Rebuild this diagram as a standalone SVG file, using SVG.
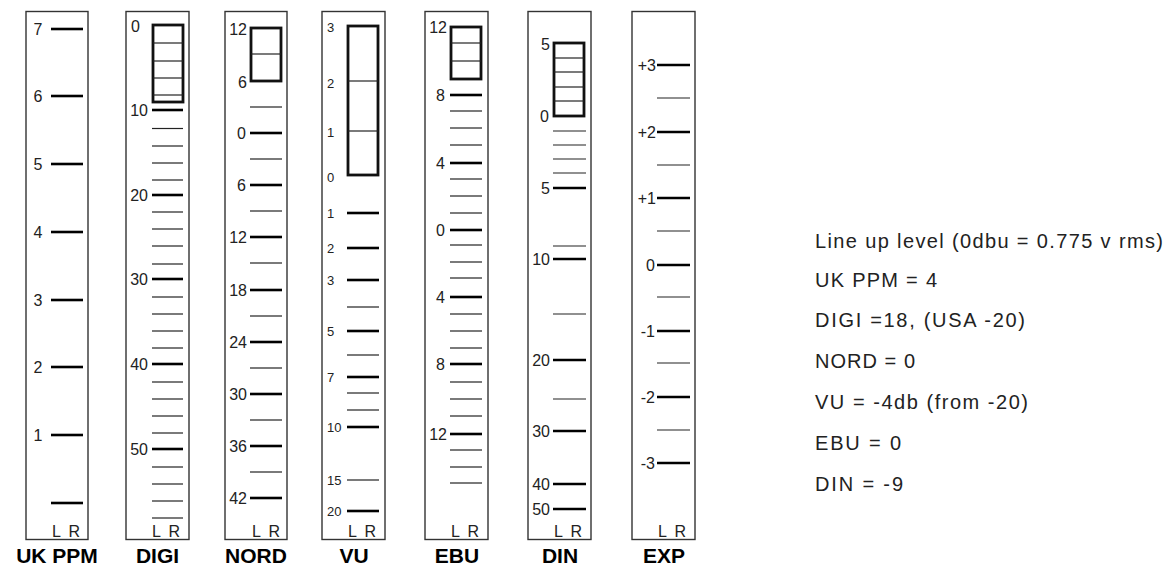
<svg xmlns="http://www.w3.org/2000/svg" width="1171" height="566" viewBox="0 0 1171 566">
<style>
.frame{fill:#fff;stroke:#333;stroke-width:1.4}
.bar{fill:#fff;stroke:#111;stroke-width:2.8}
.cell{stroke:#222;stroke-width:1.2}
.tk{stroke:#000;stroke-width:2.6}
.tn{stroke:#222;stroke-width:1.2}
.lb{font-family:"Liberation Sans",Arial,sans-serif;font-size:16px;fill:#222}
.ls{font-family:"Liberation Sans",Arial,sans-serif;font-size:13px;fill:#222}
.e{text-anchor:end}
.m{text-anchor:middle}
.lr{font-family:"Liberation Sans",Arial,sans-serif;font-size:16px;fill:#222}
.tt{font-family:"Liberation Sans",Arial,sans-serif;font-size:21px;font-weight:bold;fill:#000;text-anchor:middle}
.nt{font-family:"Liberation Sans",Arial,sans-serif;font-size:20px;fill:#222}
</style>
<rect width="1171" height="566" fill="#fff"/>

<g id="ukppm">
<rect class="frame" x="26" y="11.5" width="62" height="528"/>
<g class="tk">
<line x1="51" y1="29" x2="83" y2="29"/><line x1="51" y1="96" x2="83" y2="96"/><line x1="51" y1="164" x2="83" y2="164"/><line x1="51" y1="232" x2="83" y2="232"/><line x1="51" y1="300" x2="83" y2="300"/><line x1="51" y1="367" x2="83" y2="367"/><line x1="51" y1="435" x2="83" y2="435"/><line x1="51" y1="503" x2="83" y2="503"/>
</g>
<g class="lb m">
<text x="38" y="35">7</text><text x="38" y="102">6</text><text x="38" y="170">5</text><text x="38" y="238">4</text><text x="38" y="306">3</text><text x="38" y="373">2</text><text x="38" y="441">1</text>
</g>
<text class="lr" x="52" y="537" textLength="28">L R</text>
<text class="tt" x="57" y="563">UK PPM</text>
</g>

<g id="digi">
<rect class="frame" x="126" y="11.5" width="63" height="528"/>
<rect class="bar" x="153" y="25" width="30" height="77"/>
<g class="cell"><line x1="153" y1="43" x2="183" y2="43"/><line x1="153" y1="61" x2="183" y2="61"/><line x1="153" y1="78" x2="183" y2="78"/><line x1="153" y1="95" x2="183" y2="95"/></g>
<g class="tk">
<line x1="152" y1="110" x2="183" y2="110"/><line x1="152" y1="195" x2="183" y2="195"/><line x1="152" y1="279" x2="183" y2="279"/><line x1="152" y1="364" x2="183" y2="364"/><line x1="152" y1="449" x2="183" y2="449"/>
</g>
<g class="tn">
<line x1="152" y1="128.5" x2="183" y2="128.5"/><line x1="152" y1="146" x2="183" y2="146"/><line x1="152" y1="163" x2="183" y2="163"/><line x1="152" y1="180" x2="183" y2="180"/>
<line x1="152" y1="212" x2="183" y2="212"/><line x1="152" y1="229" x2="183" y2="229"/><line x1="152" y1="246" x2="183" y2="246"/><line x1="152" y1="264" x2="183" y2="264"/>
<line x1="152" y1="297" x2="183" y2="297"/><line x1="152" y1="314" x2="183" y2="314"/><line x1="152" y1="331" x2="183" y2="331"/><line x1="152" y1="348" x2="183" y2="348"/>
<line x1="152" y1="382" x2="183" y2="382"/><line x1="152" y1="399" x2="183" y2="399"/><line x1="152" y1="416" x2="183" y2="416"/><line x1="152" y1="433" x2="183" y2="433"/>
<line x1="152" y1="467" x2="183" y2="467"/><line x1="152" y1="484" x2="183" y2="484"/><line x1="152" y1="501" x2="183" y2="501"/><line x1="152" y1="518" x2="183" y2="518"/>
</g>
<text class="lb" x="131" y="32">0</text>
<g class="lb e">
<text x="148" y="116">10</text><text x="148" y="201">20</text><text x="148" y="285">30</text><text x="148" y="370">40</text><text x="148" y="455">50</text>
</g>
<text class="lr" x="152" y="537" textLength="28">L R</text>
<text class="tt" x="157.5" y="563">DIGI</text>
</g>

<g id="nord">
<rect class="frame" x="225" y="11.5" width="62" height="528"/>
<rect class="bar" x="251" y="28" width="30" height="53"/>
<line class="cell" x1="251" y1="54" x2="281" y2="54"/>
<g class="tk">
<line x1="250" y1="133" x2="282" y2="133"/><line x1="250" y1="185" x2="282" y2="185"/><line x1="250" y1="237" x2="282" y2="237"/><line x1="250" y1="290" x2="282" y2="290"/><line x1="250" y1="342" x2="282" y2="342"/><line x1="250" y1="394" x2="282" y2="394"/><line x1="250" y1="446" x2="282" y2="446"/><line x1="250" y1="498" x2="282" y2="498"/>
</g>
<g class="tn">
<line x1="250" y1="107" x2="282" y2="107"/><line x1="250" y1="159" x2="282" y2="159"/><line x1="250" y1="211" x2="282" y2="211"/><line x1="250" y1="263" x2="282" y2="263"/><line x1="250" y1="316" x2="282" y2="316"/><line x1="250" y1="368" x2="282" y2="368"/><line x1="250" y1="420" x2="282" y2="420"/><line x1="250" y1="472" x2="282" y2="472"/>
</g>
<g class="lb e">
<text x="247" y="35">12</text><text x="247" y="88">6</text>
<text x="246" y="139">0</text><text x="246" y="191">6</text><text x="247" y="243">12</text><text x="247" y="296">18</text><text x="247" y="348">24</text><text x="247" y="400">30</text><text x="247" y="452">36</text><text x="247" y="504">42</text>
</g>
<text class="lr" x="252" y="537" textLength="28">L R</text>
<text class="tt" x="256" y="563">NORD</text>
</g>

<g id="vu">
<rect class="frame" x="322" y="11.5" width="63" height="528"/>
<rect class="bar" x="348" y="26" width="30" height="149"/>
<g class="cell"><line x1="348" y1="81" x2="378" y2="81"/><line x1="348" y1="131" x2="378" y2="131"/></g>
<g class="tk">
<line x1="347" y1="213" x2="379" y2="213"/><line x1="347" y1="248" x2="379" y2="248"/><line x1="347" y1="280" x2="379" y2="280"/><line x1="347" y1="331" x2="379" y2="331"/><line x1="347" y1="377" x2="379" y2="377"/><line x1="347" y1="427" x2="379" y2="427"/><line x1="347" y1="511" x2="379" y2="511"/>
</g>
<g class="tn">
<line x1="347" y1="307" x2="379" y2="307"/><line x1="347" y1="355" x2="379" y2="355"/><line x1="347" y1="393" x2="379" y2="393"/><line x1="347" y1="410" x2="379" y2="410"/><line x1="347" y1="480" x2="379" y2="480"/>
</g>
<g class="ls">
<text x="327" y="32">3</text><text x="327" y="88">2</text><text x="327" y="137">1</text><text x="327" y="182">0</text>
<text x="327" y="218">1</text><text x="327" y="253">2</text><text x="327" y="285">3</text><text x="327" y="336">5</text><text x="327" y="382">7</text><text x="327" y="432">10</text><text x="327" y="485">15</text><text x="327" y="516">20</text>
</g>
<text class="lr" x="348" y="537" textLength="28">L R</text>
<text class="tt" x="354" y="563">VU</text>
</g>

<g id="ebu">
<rect class="frame" x="425" y="11.5" width="63" height="528"/>
<rect class="bar" x="451" y="27" width="30" height="52"/>
<g class="cell"><line x1="451" y1="43" x2="481" y2="43"/><line x1="451" y1="61" x2="481" y2="61"/></g>
<g class="tk">
<line x1="450" y1="95" x2="482" y2="95"/><line x1="450" y1="163" x2="482" y2="163"/><line x1="450" y1="230" x2="482" y2="230"/><line x1="450" y1="297" x2="482" y2="297"/><line x1="450" y1="364" x2="482" y2="364"/><line x1="450" y1="434" x2="482" y2="434"/>
</g>
<g class="tn">
<line x1="450" y1="111" x2="482" y2="111"/><line x1="450" y1="128" x2="482" y2="128"/><line x1="450" y1="145" x2="482" y2="145"/>
<line x1="450" y1="179" x2="482" y2="179"/><line x1="450" y1="196" x2="482" y2="196"/><line x1="450" y1="213" x2="482" y2="213"/>
<line x1="450" y1="245" x2="482" y2="245"/><line x1="450" y1="262" x2="482" y2="262"/><line x1="450" y1="278" x2="482" y2="278"/>
<line x1="450" y1="314" x2="482" y2="314"/><line x1="450" y1="331" x2="482" y2="331"/><line x1="450" y1="348" x2="482" y2="348"/>
<line x1="450" y1="382" x2="482" y2="382"/><line x1="450" y1="399" x2="482" y2="399"/><line x1="450" y1="416" x2="482" y2="416"/>
<line x1="450" y1="450" x2="482" y2="450"/><line x1="450" y1="467" x2="482" y2="467"/><line x1="450" y1="483" x2="482" y2="483"/>
</g>
<g class="lb e">
<text x="447" y="33">12</text>
<text x="445" y="101">8</text><text x="445" y="169">4</text><text x="445" y="236">0</text><text x="445" y="303">4</text><text x="445" y="370">8</text><text x="447" y="440">12</text>
</g>
<text class="lr" x="451" y="537" textLength="28">L R</text>
<text class="tt" x="457" y="563">EBU</text>
</g>

<g id="din">
<rect class="frame" x="528" y="11.5" width="63" height="528"/>
<rect class="bar" x="554" y="43" width="30" height="73"/>
<g class="cell"><line x1="554" y1="58" x2="584" y2="58"/><line x1="554" y1="72" x2="584" y2="72"/><line x1="554" y1="87" x2="584" y2="87"/><line x1="554" y1="101" x2="584" y2="101"/></g>
<g class="tk">
<line x1="553" y1="188" x2="586" y2="188"/><line x1="553" y1="259" x2="586" y2="259"/><line x1="553" y1="360" x2="586" y2="360"/><line x1="553" y1="431" x2="586" y2="431"/><line x1="553" y1="484" x2="586" y2="484"/><line x1="553" y1="509" x2="586" y2="509"/>
</g>
<g class="tn">
<line x1="553" y1="131" x2="586" y2="131"/><line x1="553" y1="145" x2="586" y2="145"/><line x1="553" y1="159" x2="586" y2="159"/><line x1="553" y1="173" x2="586" y2="173"/><line x1="553" y1="246" x2="586" y2="246"/><line x1="553" y1="314" x2="586" y2="314"/><line x1="553" y1="399" x2="586" y2="399"/>
</g>
<g class="lb e">
<text x="550" y="50">5</text><text x="549" y="122">0</text>
<text x="550" y="194">5</text><text x="550" y="265">10</text><text x="550" y="366">20</text><text x="550" y="437">30</text><text x="550" y="490">40</text><text x="550" y="515">50</text>
</g>
<text class="lr" x="554" y="537" textLength="28">L R</text>
<text class="tt" x="560" y="563">DIN</text>
</g>

<g id="exp">
<rect class="frame" x="632" y="11.5" width="63" height="528"/>
<g class="tk">
<line x1="657" y1="65" x2="690" y2="65"/><line x1="657" y1="132" x2="690" y2="132"/><line x1="657" y1="198" x2="690" y2="198"/><line x1="657" y1="265" x2="690" y2="265"/><line x1="657" y1="331" x2="690" y2="331"/><line x1="657" y1="397" x2="690" y2="397"/><line x1="657" y1="463" x2="690" y2="463"/>
</g>
<g class="tn">
<line x1="657" y1="98" x2="690" y2="98"/><line x1="657" y1="165" x2="690" y2="165"/><line x1="657" y1="231" x2="690" y2="231"/><line x1="657" y1="297" x2="690" y2="297"/><line x1="657" y1="363" x2="690" y2="363"/><line x1="657" y1="430" x2="690" y2="430"/>
</g>
<g class="lb e">
<text x="656" y="71">+3</text><text x="656" y="138">+2</text><text x="656" y="204">+1</text><text x="655" y="271">0</text><text x="655" y="337">-1</text><text x="655" y="403">-2</text><text x="655" y="469">-3</text>
</g>
<text class="lr" x="658" y="537" textLength="28">L R</text>
<text class="tt" x="664" y="563">EXP</text>
</g>

<g id="notes" class="nt">
<text x="815" y="248" textLength="348">Line up level (0dbu = 0.775 v rms)</text>
<text x="815" y="287" textLength="122">UK PPM = 4</text>
<text x="815" y="327" textLength="210">DIGI =18, (USA -20)</text>
<text x="815" y="368" textLength="100">NORD = 0</text>
<text x="815" y="409" textLength="213">VU = -4db (from -20)</text>
<text x="815" y="450" textLength="86">EBU = 0</text>
<text x="815" y="491" textLength="88">DIN = -9</text>
</g>
</svg>
